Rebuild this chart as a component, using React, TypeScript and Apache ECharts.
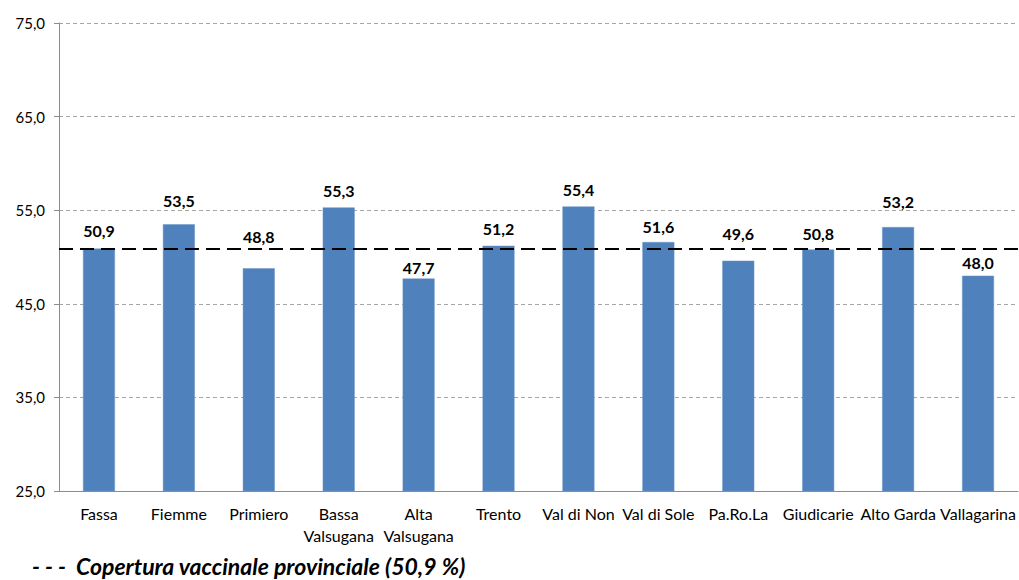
import React, { useEffect, useRef } from "react";
import * as echarts from "echarts";

const categories = [
  "Fassa", "Fiemme", "Primiero", "Bassa\nValsugana", "Alta\nValsugana", "Trento",
  "Val di Non", "Val di Sole", "Pa.Ro.La", "Giudicarie", "Alto Garda", "Vallagarina",
];
const coverage = [50.9, 53.5, 48.8, 55.3, 47.7, 51.2, 55.4, 51.6, 49.6, 50.8, 53.2, 48.0];
const provincialCoverage = 50.9;
const yTicks = [25, 35, 45, 55, 65, 75];
const legendText = "- - -  Copertura vaccinale provinciale (50,9 %)";

// label gaps above each bar (manually placed in the original)
const labelGaps = [10, 16, 24, 9, 3, 9, 9, 8, 19, 8, 18, 5];

const FONT = "Lato, 'Open Sans', sans-serif";
const fmt = (v: number) => v.toFixed(1).replace(".", ",");

export default function App() {
  const ref = useRef<HTMLDivElement>(null);
  useEffect(() => {
    if (!ref.current) return;
    const chart = echarts.init(ref.current, undefined, { renderer: "svg" });
    chart.setOption({
      animation: false,
      grid: { left: 59, right: 1, top: 23, bottom: 89, containLabel: false },
      xAxis: {
        type: "category",
        data: categories,
        axisTick: { show: false },
        axisLine: { lineStyle: { color: "#8c8c8c", width: 1 } },
        axisLabel: {
          interval: 0,
          color: "#000",
          fontSize: 16,
          fontFamily: FONT,
          margin: 11,
          lineHeight: 22,
        },
      },
      yAxis: {
        type: "value",
        min: 25,
        max: 75,
        axisLine: { show: true, lineStyle: { color: "#8c8c8c", width: 1 } },
        axisTick: { show: true, length: 5, customValues: yTicks, lineStyle: { color: "#8c8c8c" } },
        axisLabel: {
          customValues: yTicks,
          color: "#000",
          fontSize: 15,
          fontFamily: FONT,
          margin: 14,
          formatter: (v: number) => fmt(v),
        },
        splitLine: {
          show: true,
          lineStyle: { color: "#a6a6a6", type: [4, 3], width: 1 },
        },
      },
      series: [
        {
          type: "bar",
          data: coverage.map((v, i) => ({ value: v, label: { distance: labelGaps[i] } })),
          barWidth: "40%",
          itemStyle: { color: "#4F81BD", borderColor: "#6b96c9", borderWidth: 0.5 },
          label: {
            show: true,
            position: "top",
            color: "#000",
            fontWeight: "bold",
            fontSize: 16,
            fontFamily: FONT,
            formatter: (p: any) => fmt(p.value),
          },
          markLine: {
            silent: true,
            symbol: ["none", "none"],
            label: { show: false },
            lineStyle: { color: "#000", type: [14, 7], width: 2 },
            data: [{ yAxis: provincialCoverage }],
          },
        },
      ],
      graphic: [
        {
          type: "text",
          left: 32,
          top: 554,
          style: {
            text: legendText,
            fill: "#000",
            font: `italic bold 23px ${FONT}`,
          },
        },
      ],
    });
    return () => chart.dispose();
  }, []);
  return (
    <div
      ref={ref}
      style={{ position: "absolute", left: 0, top: 0, width: 1019, height: 580 }}
    />
  );
}
